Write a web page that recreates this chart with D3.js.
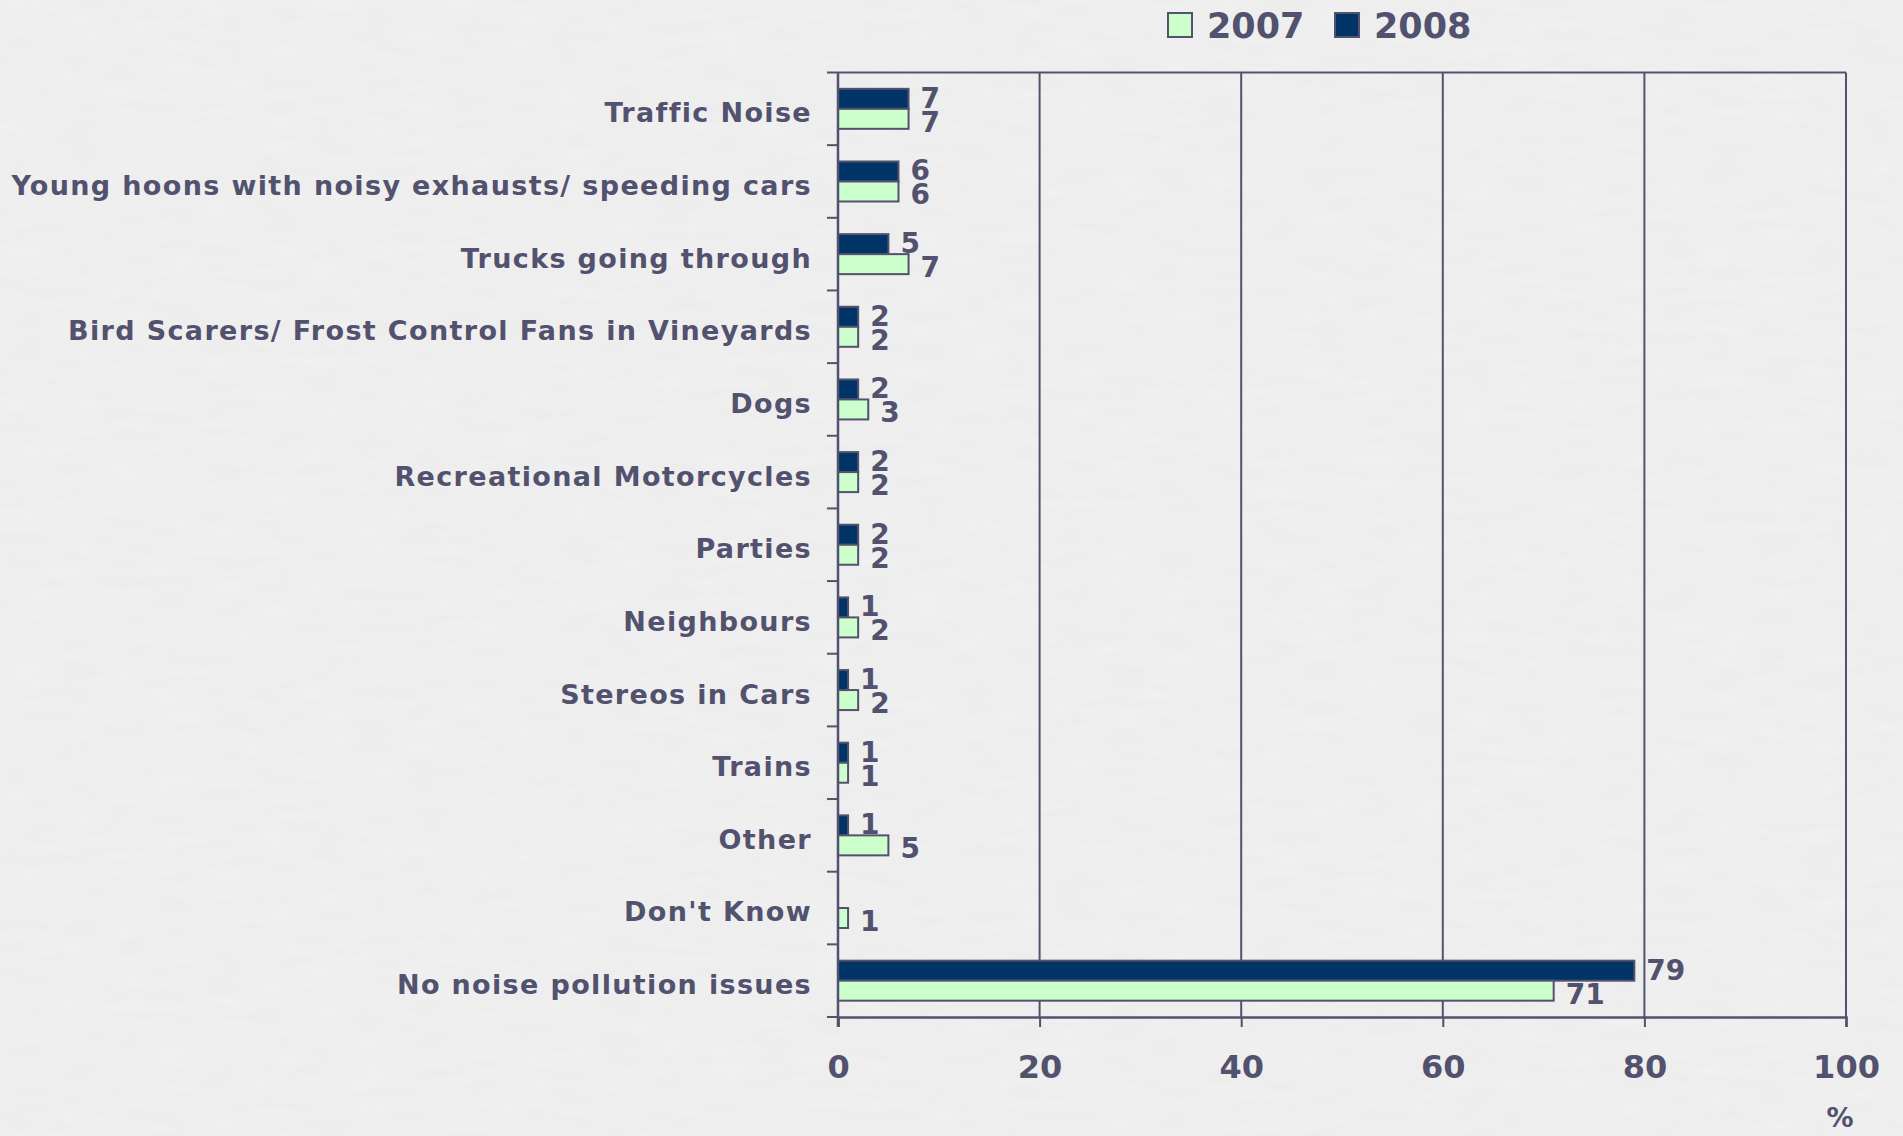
<!DOCTYPE html>
<html><head><meta charset="utf-8">
<script src="https://cdn.jsdelivr.net/npm/d3@7"></script>
<style>
html,body{margin:0;padding:0;background:#eeeeee;}
svg{display:block;}
</style></head>
<body>
<svg id="chart" width="1903" height="1136"></svg>
<script>
const categories = ["Traffic Noise","Young hoons with noisy exhausts/ speeding cars","Trucks going through","Bird Scarers/ Frost Control Fans in Vineyards","Dogs","Recreational Motorcycles","Parties","Neighbours","Stereos in Cars","Trains","Other","Don't Know","No noise pollution issues"];
const values2007 = [7,6,7,2,3,2,2,2,2,1,5,1,71];
const values2008 = [7,6,5,2,2,2,2,1,1,1,1,null,79];
const seriesNames = ["2007","2008"];
const xTicks = [0,20,40,60,80,100];

const ink = "#52526f";
const fill2007 = "#ccffcc", fill2008 = "#003366";

const svg = d3.select("#chart");
// background texture
const defs = svg.append("defs");
const flt = defs.append("filter").attr("id","paper").attr("x",0).attr("y",0).attr("width","100%").attr("height","100%");
flt.append("feTurbulence").attr("type","fractalNoise").attr("baseFrequency","0.02 0.09").attr("numOctaves",3).attr("seed",4).attr("result","n");
flt.append("feColorMatrix").attr("type","matrix").attr("values","0 0 0 0 0.5  0 0 0 0 0.5  0 0 0 0 0.5  0 0 0 0.10 0");
svg.append("rect").attr("width",1903).attr("height",1136).attr("fill","#f1f1f1");
svg.append("rect").attr("width",1903).attr("height",1136).attr("filter","url(#paper)");

const pLeft = 838, pRight = 1846, pTop = 72.5, pBottom = 1017;
const x = d3.scaleLinear().domain([0,100]).range([pLeft,pRight]);
const y = d3.scaleBand().domain(categories).range([pTop,pBottom]).padding(0);
const barH = 20;

const g = svg.append("g");

// gridlines
g.selectAll("line.grid").data(xTicks.slice(1)).join("line")
  .attr("x1",d=>x(d)).attr("x2",d=>x(d)).attr("y1",pTop).attr("y2",pBottom)
  .attr("stroke",ink).attr("stroke-width",2);
// top border
g.append("line").attr("x1",pLeft).attr("x2",pRight).attr("y1",pTop).attr("y2",pTop).attr("stroke",ink).attr("stroke-width",2);

// bars
const rows = categories.map((c,i)=>({c, v07:values2007[i], v08:values2008[i]}));
const bh = y.bandwidth();
g.selectAll("rect.b08").data(rows.filter(r=>r.v08!=null)).join("rect")
  .attr("x",x(0)).attr("y",d=>y(d.c)+bh/2-barH).attr("width",d=>x(d.v08)-x(0)).attr("height",barH)
  .attr("fill",fill2008).attr("stroke",ink).attr("stroke-width",2);
g.selectAll("rect.b07").data(rows.filter(r=>r.v07!=null)).join("rect")
  .attr("x",x(0)).attr("y",d=>y(d.c)+bh/2).attr("width",d=>x(d.v07)-x(0)).attr("height",barH)
  .attr("fill",fill2007).attr("stroke",ink).attr("stroke-width",2);

// value labels
const lblFont = "'DejaVu Sans', Verdana, sans-serif";
g.selectAll("text.l08").data(rows.filter(r=>r.v08!=null)).join("text")
  .attr("x",d=>x(d.v08)+12).attr("y",d=>y(d.c)+bh/2-barH/2+9)
  .attr("font-family",lblFont).attr("font-weight","bold").attr("font-size",28).attr("fill",ink)
  .text(d=>d.v08);
g.selectAll("text.l07").data(rows.filter(r=>r.v07!=null)).join("text")
  .attr("x",d=>x(d.v07)+12).attr("y",d=>y(d.c)+bh/2+barH/2+13)
  .attr("font-family",lblFont).attr("font-weight","bold").attr("font-size",28).attr("fill",ink)
  .text(d=>d.v07);

// y axis
const yAxis = d3.axisLeft(y).tickSize(0).tickPadding(0);
const ya = g.append("g").attr("transform",`translate(${pLeft},0)`).call(yAxis);
ya.select(".domain").remove();
ya.selectAll("text").attr("x",-26).attr("dy","0.35em").attr("y",4)
  .attr("font-family",lblFont).attr("font-weight","bold").attr("letter-spacing","1.35px")
  .attr("font-size",27).attr("fill",ink);
// category boundary ticks
const bounds = categories.map(c=>y(c)).concat([pBottom]);
g.selectAll("line.ct").data(bounds).join("line")
  .attr("x1",pLeft-11).attr("x2",pLeft).attr("y1",d=>d).attr("y2",d=>d)
  .attr("stroke",ink).attr("stroke-width",2);
g.append("line").attr("x1",pLeft).attr("x2",pLeft).attr("y1",pTop).attr("y2",pBottom+10).attr("stroke",ink).attr("stroke-width",2.5);

// x axis
const xAxis = d3.axisBottom(x).tickValues(xTicks).tickSize(10).tickPadding(28);
const xa = g.append("g").attr("transform",`translate(0,${pBottom})`).call(xAxis);
xa.select(".domain").attr("stroke",ink).attr("stroke-width",2.5);
xa.selectAll(".tick line").attr("stroke",ink).attr("stroke-width",2);
xa.selectAll("text").attr("font-family",lblFont).attr("font-weight","bold").attr("font-size",32).attr("fill",ink);
g.append("text").attr("x",x(100)-6).attr("y",1127).attr("text-anchor","middle")
  .attr("font-family",lblFont).attr("font-weight","bold").attr("font-size",27).attr("fill",ink).text("%");

// legend
const legend = svg.append("g");
const legX = [1168, 1335];
const fills = [fill2007, fill2008];
seriesNames.forEach((s,i)=>{
  legend.append("rect").attr("x",legX[i]).attr("y",13).attr("width",24).attr("height",24)
    .attr("fill",fills[i]).attr("stroke",ink).attr("stroke-width",2);
  legend.append("text").attr("x",legX[i]+39).attr("y",38)
    .attr("font-family",lblFont).attr("font-weight","bold").attr("font-size",35).attr("fill",ink).text(s);
});
</script>
</body></html>
